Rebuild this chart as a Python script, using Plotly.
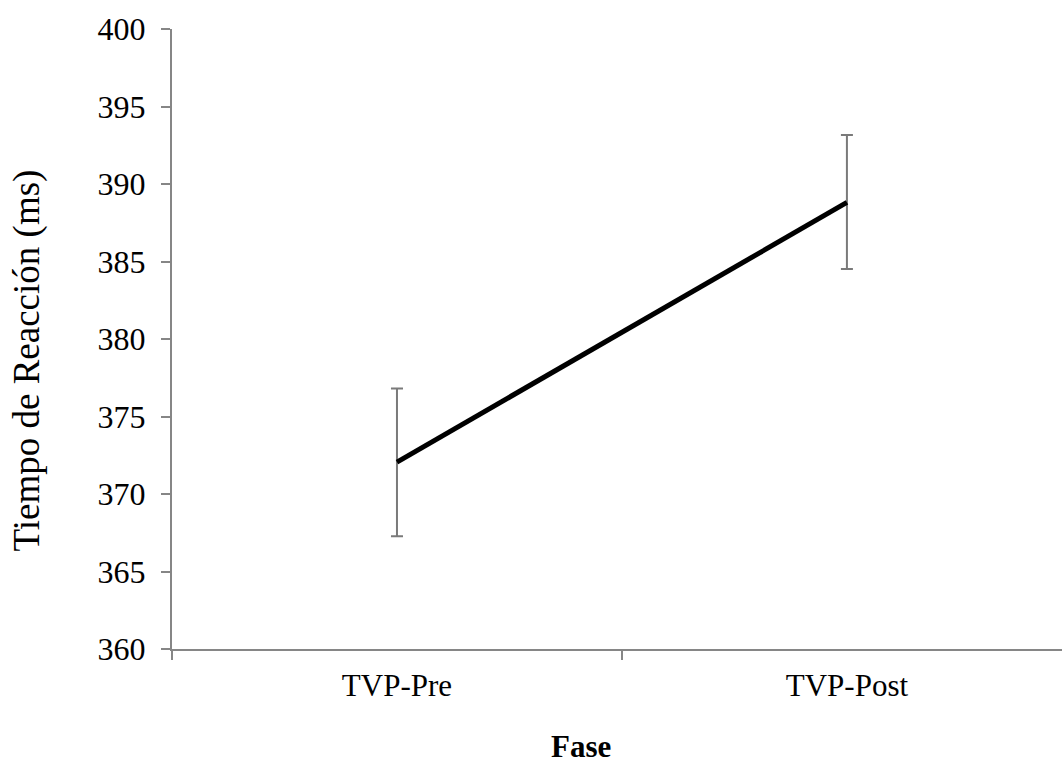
import plotly.graph_objects as go

categories = ["TVP-Pre", "TVP-Post"]
means = [372.06, 388.81]
errors_plus = [4.75, 4.35]
errors_minus = [4.79, 4.29]
y_ticks = [360, 365, 370, 375, 380, 385, 390, 395, 400]

FONT = "Liberation Serif, Times New Roman, serif"
AXIS_GRAY = "#868686"

fig = go.Figure()
fig.add_trace(go.Scatter(
    x=categories, y=means, mode="lines",
    line=dict(color="black", width=5),
    error_y=dict(type="data", array=errors_plus, arrayminus=errors_minus,
                 color="#7a7a7a", thickness=2, width=6, symmetric=False),
    showlegend=False,
))

fig.update_layout(
    width=1062, height=764,
    margin=dict(l=172, r=0, t=29, b=115),
    paper_bgcolor="white", plot_bgcolor="white",
    font=dict(family=FONT, color="black"),
    xaxis=dict(
        type="category", categoryorder="array", categoryarray=categories,
        range=[-0.5, 1.478], tickson="boundaries",
        ticks="outside", ticklen=9, tickwidth=2, tickcolor=AXIS_GRAY,
        showline=True, linecolor=AXIS_GRAY, linewidth=2,
        showgrid=False, zeroline=False,
        tickfont=dict(size=31, family=FONT, color="black"),
        ticklabelstandoff=8,
    ),
    yaxis=dict(
        range=[360, 400], tickvals=y_ticks,
        ticks="outside", ticklen=9, tickwidth=2, tickcolor=AXIS_GRAY,
        showline=True, linecolor=AXIS_GRAY, linewidth=2,
        showgrid=False, zeroline=False,
        tickfont=dict(size=32, family=FONT, color="black"),
        ticklabelstandoff=9,
    ),
    annotations=[
        dict(text="Tiempo de Reacción (ms)", textangle=-90,
             xref="paper", yref="paper", x=-0.1624, y=0.466,
             xanchor="center", yanchor="middle", showarrow=False,
             font=dict(size=37, family=FONT, color="black")),
        dict(text="<b>Fase</b>",
             xref="paper", yref="paper", x=0.460, y=-0.158,
             xanchor="center", yanchor="middle", showarrow=False,
             font=dict(size=31, family=FONT, color="black")),
    ],
)

fig.write_html("out.html")
